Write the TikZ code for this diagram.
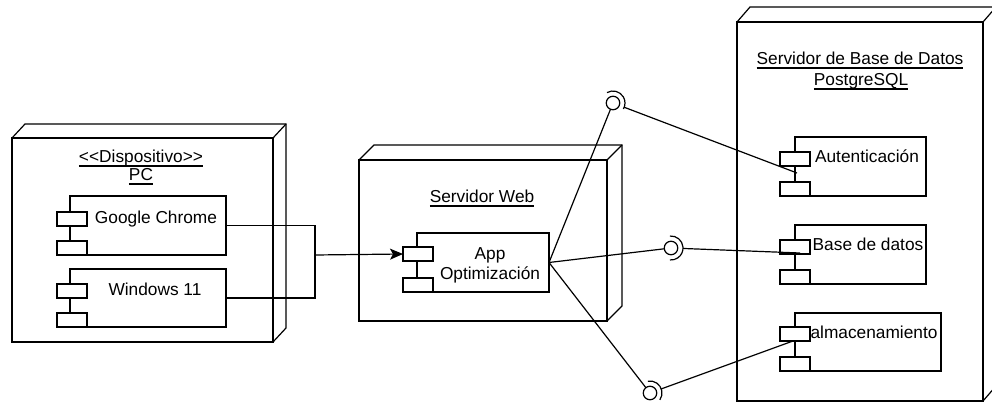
\documentclass[tikz,border=0pt]{standalone}
\usepackage{fontspec}
\setmainfont{Liberation Sans}
\usetikzlibrary{arrows.meta,calc}
\newcommand{\cubeback}[3]{%
  \draw (#1.north west) -- ++(#2,-#3) -| ([shift={(#2,-#3)}]#1.south east) -- (#1.south east);
  \draw (#1.north east) -- ++(#2,-#3);}
\newcommand{\ulnode}[1]{\draw ([yshift=-3pt]#1.base west) -- ([yshift=-3pt]#1.base east);}
\begin{document}
\begin{tikzpicture}[x=1pt,y=-1pt,line width=1.2pt,
  boxface/.style={draw,fill=white,inner sep=0pt,outer sep=0pt,anchor=north west},
  comp/.style={draw,fill=white,inner sep=0pt,outer sep=0pt,anchor=north west},
  port/.style={draw,fill=white,inner sep=0pt,outer sep=0pt,minimum width=30pt,minimum height=14pt,anchor=north west},
  lbl/.style={font=\fontsize{17.3}{19.5}\selectfont,anchor=base,inner sep=0pt,outer sep=0pt},
  ball/.style={circle,draw,fill=white,minimum size=13.5pt,inner sep=0pt,outer sep=0pt}]
\useasboundingbox (0,0) rectangle (992,403);
\clip (0,0) rectangle (992,403);

% ---------- PC ----------
\node[boxface,minimum width=261pt,minimum height=204pt] (pc) at (12,138) {};
\cubeback{pc}{13}{14}
\node[lbl] (pct1) at (141,163) {<\kern0pt<Dispositivo>\kern0pt>};
\node[lbl] (pct2) at (141,181) {PC};
\ulnode{pct1}\ulnode{pct2}

\node[comp,minimum width=156pt,minimum height=59pt] (gc) at (70,196) {};
\node[port] (gc1) at (57,212) {};
\node[port] (gc2) at (57,241) {};
\node[lbl] (gct) at (156,223) {Google Chrome};

\node[comp,minimum width=156pt,minimum height=58pt] (win) at (70,269) {};
\node[port] (win1) at (57,284) {};
\node[port] (win2) at (57,313) {};
\node[lbl] (wint) at (155,295) {Windows 11};

% ---------- Servidor Web ----------
\node[boxface,minimum width=248pt,minimum height=161pt] (web) at (359,160) {};
\cubeback{web}{15}{15}
\node[lbl] (webt) at (482,203) {Servidor Web};
\ulnode{webt}

\node[comp,minimum width=132pt,minimum height=59pt] (app) at (417,233) {};
\node[port] (app1) at (403,247) {};
\node[port] (app2) at (403,278) {};
\node[lbl] (appt1) at (490,259) {App};
\node[lbl] (appt2) at (490,279) {Optimización};

% ---------- Servidor BD ----------
\node[boxface,minimum width=246pt,minimum height=379pt] (db) at (737,22) {};
\cubeback{db}{13}{15}
\node[lbl] (dbt1) at (860,65) {Servidor de Base de Datos};
\node[lbl] (dbt2) at (861,86) {PostgreSQL};
\ulnode{dbt1}\ulnode{dbt2}

\node[comp,minimum width=131pt,minimum height=59pt] (auth) at (795,137) {};
\node[port] (auth1) at (780,152) {};
\node[port] (auth2) at (780,182) {};
\node[lbl] (autht) at (867,163) {Autenticación};

\node[comp,minimum width=131pt,minimum height=59pt] (bd) at (795,225) {};
\node[port] (bd1) at (780,240) {};
\node[port] (bd2) at (780,270) {};
\node[lbl] (bdt) at (868,251) {Base de datos};

\node[comp,minimum width=146pt,minimum height=58pt] (alm) at (795,313) {};
\node[port] (alm1) at (780,327) {};
\node[port] (alm2) at (780,357) {};
\node[lbl] (almt) at (874,338) {almacenamiento};

% ---------- connectors PC -> App ----------
\coordinate (bus) at (315,255);
\draw (gc.east) -| (bus);
\draw (win.east) -| (bus);
\draw[-{Stealth[length=13pt,width=11pt,inset=3pt]}] (bus) -- (app1.west);

% ---------- interfaces ----------
\node[ball] (b1) at (613,103) {};
\node[ball] (b2) at (671,248) {};
\node[ball] (b3) at (650,393) {};
\coordinate (authin) at (797,173);
\coordinate (bdin) at (800,253);
\coordinate (almin) at (793,341);

\draw (app.east) -- (b1);
\draw (app.east) -- (b2);
\draw (app.east) -- (b3);

\draw ([shift={(-120:12)}]b1.center) arc[start angle=-120,end angle=30,radius=12];
\draw ([shift={(-95:12)}]b2.center) arc[start angle=-95,end angle=95,radius=12];
\draw ([shift={(-100:12)}]b3.center) arc[start angle=-100,end angle=35,radius=12];

\draw ($(b1.center)!12pt!(authin)$) -- (authin);
\draw ($(b2.center)!12pt!(bdin)$) -- (bdin);
\draw ($(b3.center)!12pt!(almin)$) -- (almin);
\end{tikzpicture}
\end{document}
